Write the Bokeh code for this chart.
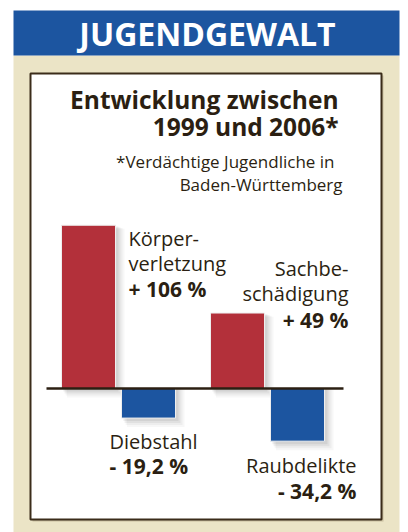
from bokeh.plotting import figure
from bokeh.models import Range1d, Label, ColumnDataSource
from bokeh.embed import file_html
from bokeh.resources import INLINE

# ---------------- data ----------------
categories = ["Körperverletzung", "Diebstahl", "Sachbeschädigung", "Raubdelikte"]
values = [106, -19.2, 49, -34.2]
label_lines = [["Körper-", "verletzung", "+ 106 %"],
               ["Diebstahl", "- 19,2 %"],
               ["Sachbe-", "schädigung", "+ 49 %"],
               ["Raubdelikte", "- 34,2 %"]]
header = "JUGENDGEWALT"
title_lines = ["Entwicklung zwischen", "1999 und 2006*"]
note_lines = ["*Verdächtige Jugendliche in", "Baden-Württemberg"]

# ---------------- layout ----------------
W, H = 408, 532
BASE_PX = 388.0
PX_PER_UNIT = 1.54

def py(pix):
    return (BASE_PX - pix) / PX_PER_UNIT

RED = "#b3303a"
BLUE = "#1c55a0"
BEIGE = "#ebe4c6"
DARK = "#2b1f12"
FONT = "Open Sans"

p = figure(width=W, height=H, output_backend="svg", toolbar_location=None,
           x_range=Range1d(0, W), y_range=Range1d(py(H), py(0)),
           min_border=0, min_border_left=0, min_border_right=0,
           min_border_top=0, min_border_bottom=0)
p.axis.visible = False
p.grid.visible = False
p.outline_line_color = None
p.background_fill_color = "white"
p.border_fill_color = "white"

p.quad(left=[13], right=[399], top=[py(55)], bottom=[py(532)], fill_color=BEIGE, line_color=None)
p.quad(left=[13], right=[399], top=[py(10)], bottom=[py(55)], fill_color=BLUE, line_color=None)
p.quad(left=[32], right=[383], top=[py(75)], bottom=[py(521)], fill_color="#8a7a5a", fill_alpha=0.35, line_color=None)
p.quad(left=[30], right=[381], top=[py(73)], bottom=[py(519)], fill_color="white",
       line_color="#3b2c1a", line_width=2)

bar_w = 54
xs = [88 + i * 60 + (29 if i >= 2 else 0) for i in range(len(values))]
colors = [RED if v > 0 else BLUE for v in values]
tops = [max(v, 0) for v in values]
bots = [min(v, 0) for v in values]

for k, a in [(9, 0.03), (7, 0.04), (5, 0.05), (3, 0.06)]:
    src = ColumnDataSource(dict(
        left=[x - bar_w / 2 + k * 0.6 for x in xs],
        right=[x + bar_w / 2 + k for x in xs],
        top=[t - (k * 0.4) / PX_PER_UNIT if t > 0 else t for t in tops],
        bottom=[b - k / PX_PER_UNIT for b in bots]))
    p.quad(left="left", right="right", top="top", bottom="bottom", source=src,
           fill_color="#000000", fill_alpha=a, line_color=None)

src = ColumnDataSource(dict(cat=categories, val=values,
                            left=[x - bar_w / 2 for x in xs],
                            right=[x + bar_w / 2 for x in xs],
                            top=tops, bottom=bots, color=colors))
p.quad(left="left", right="right", top="top", bottom="bottom", source=src,
       fill_color="color", line_color="#eeeeee", line_width=1)

p.segment(x0=[46], x1=[343], y0=[0], y1=[0], line_color=DARK, line_width=2.5)

BASELINE_FIX = 0.37  # Bokeh places 'alphabetic' text lower by about this fraction of the size

def txt(x, base, s, size, bold=False, align="left", color=DARK):
    p.add_layout(Label(x=x, y=py(base - BASELINE_FIX * size), text=s, text_align=align,
                       text_baseline="alphabetic", text_font=FONT,
                       text_font_size=f"{size}px",
                       text_font_style="bold" if bold else "normal",
                       text_color=color))

txt(207, 45, header, 32, bold=True, align="center", color="white")
txt(338, 108, title_lines[0], 24.5, bold=True, align="right")
txt(338, 135, title_lines[1], 24.5, bold=True, align="right")
txt(334, 167, note_lines[0], 17, align="right")
txt(342, 190, note_lines[1], 17, align="right")

label_pos = [(128, "left", [245, 270, 296]),
             (109, "left", [448, 473]),
             (348, "right", [275, 300, 327]),
             (356, "right", [472, 498])]
for lines, (x, al, bases) in zip(label_lines, label_pos):
    for j, (line, b) in enumerate(zip(lines, bases)):
        bold = (j == len(lines) - 1)
        txt(x, b, line, 21 if bold else 20, bold=bold, align=al)

open("out.html", "w").write(file_html(p, INLINE))
